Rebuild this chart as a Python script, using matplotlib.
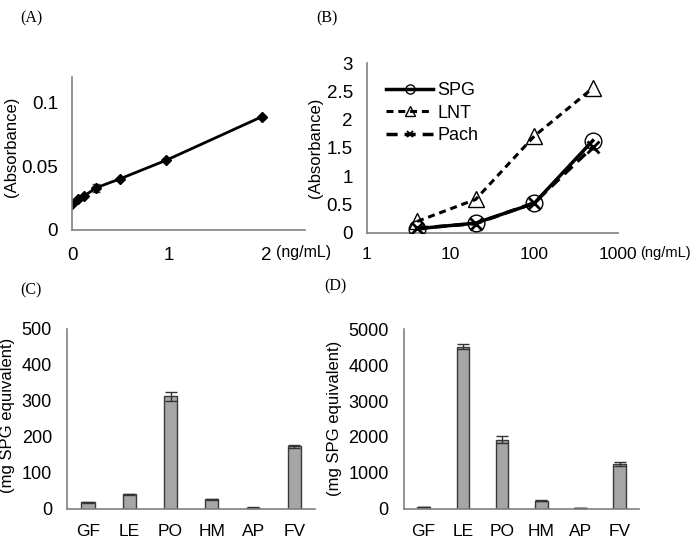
import matplotlib
matplotlib.use("Agg")
import matplotlib.pyplot as plt
import numpy as np

plt.rcParams['font.family'] = ['Liberation Sans', 'DejaVu Sans']
plt.rcParams['lines.scale_dashes'] = False

# ---- Data ----
# (A) standard curve
a_x = [0, 0.065, 0.125, 0.245, 0.49, 0.97, 1.96]
a_y = [0.0203, 0.024, 0.0266, 0.033, 0.040, 0.0547, 0.089]
a_err = [0.0008, 0.0008, 0.0008, 0.003, 0.001, 0.0008, 0.0008]

# (B) dose response
b_x = [4, 20, 100, 500]
spg = [0.07, 0.17, 0.52, 1.63]
lnt = [0.20, 0.59, 1.71, 2.56]
pach = [0.08, 0.16, 0.53, 1.52]

# (C) and (D)
cats = ['GF', 'LE', 'PO', 'HM', 'AP', 'FV']
c_vals = [18, 40, 312, 26, 3, 174]
c_err = [1, 2, 13, 1, 0.5, 4]
d_vals = [46, 4517, 1924, 223, 10, 1255]
d_err = [5, 65, 90, 17, 2, 55]

W, H = 692, 544
fig = plt.figure(figsize=(W / 100, H / 100), dpi=100)


def ax_px(l, r, t, b):
    return fig.add_axes([l / W, 1 - b / H, (r - l) / W, (b - t) / H])


spine_col = '#808080'


def style(ax):
    for s in ['top', 'right']:
        ax.spines[s].set_visible(False)
    for s in ['left', 'bottom']:
        ax.spines[s].set_color(spine_col)
        ax.spines[s].set_linewidth(1.2)
    ax.tick_params(length=0)


# ---- (A) ----
axA = ax_px(72, 305, 77, 230)
style(axA)
axA.errorbar(a_x, a_y, yerr=a_err, color='black', lw=2, marker='D', ms=5,
             mfc='black', mec='black', ecolor='#444444', elinewidth=1, capsize=3)
axA.set_xlim(0, 2.4)
axA.set_ylim(0, 0.12)
axA.set_xticks([0, 1, 2])
axA.set_xticklabels(['0', '1', '2'])
axA.set_yticks([0, 0.05, 0.1])
axA.set_yticklabels(['0', '0.05', '0.1'])
axA.tick_params(axis='y', pad=10, labelsize=13.5)
axA.tick_params(axis='x', pad=12, labelsize=13.5)
fig.text(12 / W, 1 - 147 / H, '(Absorbance)', rotation=90, ha='center', va='center', fontsize=12)
fig.text(276 / W, 1 - 253 / H, '(ng/mL)', ha='left', va='center', fontsize=11.5)

# ---- (B) ----
axB = ax_px(366.7, 618, 63.3, 232.7)
style(axB)
axB.set_xscale('log')
axB.plot(b_x, spg, color='black', lw=2.5, marker='o', ms=12, mfc='none', mec='black', mew=1,
         label='SPG', zorder=3)
axB.plot(b_x, lnt, color='black', lw=2.2, dashes=(5, 3.5), marker='^', ms=12, mfc='none',
         mec='black', mew=1, label='LNT', zorder=2)
axB.plot(b_x, pach, color='black', lw=2.5, dashes=(8, 5), marker='x', ms=9, mew=2,
         label='Pach', zorder=4)
axB.set_xlim(1, 1000)
axB.set_ylim(0, 3)
axB.set_xticks([1, 10, 100, 1000])
axB.set_xticklabels(['1', '10', '100', '1000'])
axB.xaxis.set_minor_locator(matplotlib.ticker.NullLocator())
axB.set_yticks([0, 0.5, 1, 1.5, 2, 2.5, 3])
axB.set_yticklabels(['0', '0.5', '1', '1.5', '2', '2.5', '3'])
axB.tick_params(axis='y', pad=10, labelsize=13.5)
axB.tick_params(axis='x', pad=10, labelsize=12.5)
leg = axB.legend(loc='upper left', bbox_to_anchor=(0.05, 0.93), frameon=False, fontsize=13,
                 markerscale=0.55, handlelength=2.6, handletextpad=0.2, labelspacing=0.3,
                 borderaxespad=0)
for h in leg.legend_handles:
    if h.get_label() == 'Pach':
        h.set_markeredgewidth(1.3)
fig.text(315 / W, 1 - 148 / H, '(Absorbance)', rotation=90, ha='center', va='center', fontsize=12)
fig.text(640 / W, 1 - 253 / H, '(ng/mL)', ha='left', va='center', fontsize=10.5)

# ---- (C) ----
bar_col = '#a6a6a6'
edge_col = '#3a3a3a'
axC = ax_px(67.3, 315, 328.7, 508.7)
style(axC)
xc = np.arange(len(cats))
axC.bar(xc, c_vals, width=0.32, color=bar_col, edgecolor=edge_col, lw=1,
        yerr=c_err, error_kw=dict(ecolor='#333333', elinewidth=1, capsize=4, capthick=1))
axC.set_xlim(-0.5, len(cats) - 0.5)
axC.set_ylim(0, 500)
axC.set_xticks(xc)
axC.set_xticklabels(cats)
axC.set_yticks([0, 100, 200, 300, 400, 500])
axC.tick_params(axis='y', pad=11, labelsize=13)
axC.tick_params(axis='x', pad=11, labelsize=12.5)
fig.text(8 / W, 1 - 415 / H, '(mg SPG equivalent)', rotation=90, ha='center', va='center', fontsize=12)

# ---- (D) ----
axD = ax_px(404, 639.3, 329.3, 508.7)
style(axD)
axD.bar(xc, d_vals, width=0.32, color=bar_col, edgecolor=edge_col, lw=1,
        yerr=d_err, error_kw=dict(ecolor='#333333', elinewidth=1, capsize=4, capthick=1))
axD.set_xlim(-0.5, len(cats) - 0.5)
axD.set_ylim(0, 5000)
axD.set_xticks(xc)
axD.set_xticklabels(cats)
axD.set_yticks([0, 1000, 2000, 3000, 4000, 5000])
axD.tick_params(axis='y', pad=11, labelsize=13)
axD.tick_params(axis='x', pad=11, labelsize=12.5)
fig.text(335 / W, 1 - 418 / H, '(mg SPG equivalent)', rotation=90, ha='center', va='center', fontsize=12)

# ---- Panel labels ----
for lab, x, y in [('(A)', 20, 18), ('(B)', 316, 18), ('(C)', 20, 290), ('(D)', 324, 286)]:
    fig.text(x / W, 1 - y / H, lab, ha='left', va='center', fontsize=11.5,
             family=['Liberation Serif', 'DejaVu Serif'])

fig.savefig('out.png', dpi=100)
